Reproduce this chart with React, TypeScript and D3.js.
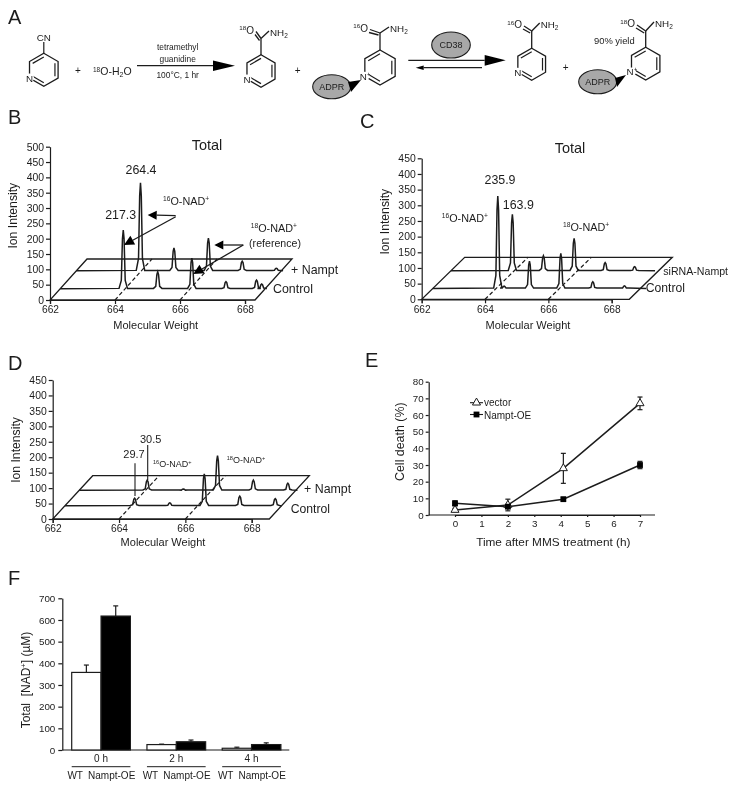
import React, { useEffect, useRef } from "react";
import * as d3 from "d3";

const FONT = "'Liberation Sans', Arial, sans-serif";
const INK = "#1c1c1c";

// spectra: peak mass + height above each trace baseline
const massTicks = [662, 664, 666, 668];
const ionTicksB = d3.range(0, 501, 50);
const ionTicksCD = d3.range(0, 451, 50);

const bFrontMass = [663.94, 665.0, 666.05, 667.1, 668.04, 668.2];
const bFrontHeight = [191, 55, 100, 23, 28, 15];
const bBackMass = [663.97, 665.0, 666.06, 667.1, 668.15];
const bBackHeight = [287, 74, 106, 31, 8];

const cFrontMass = [664.05, 664.25, 665.05, 666.04, 667.05, 668.05];
const cFrontHeight = [295, 7, 87, 112, 21, 8];
const cBackMass = [663.94, 664.92, 665.89, 666.87, 667.8];
const cBackHeight = [180, 48, 103, 26, 13];

const dFrontMass = [664.1, 665.16, 666.2, 667.27, 668.34];
const dFrontHeight = [24, 9, 103, 31, 23];
const dBackMass = [664.05, 665.14, 666.17, 667.25, 668.29];
const dBackHeight = [33, 4, 112, 33, 23];

// panel E
const hours = [0, 2, 4.1, 7];
const hourTicks = [0, 1, 2, 3, 4, 5, 6, 7];
const deathTicks = [0, 10, 20, 30, 40, 50, 60, 70, 80];
const vectorDeath = [3, 6, 28, 67];
const vectorErr = [1, 3.5, 9, 3.8];
const namptDeath = [7, 5, 9.5, 30];
const namptErr = [1.5, 1, 1, 2.2];

// panel F
const timeGroups = ["0 h", "2 h", "4 h"];
const genotypes = ["WT", "Nampt-OE"];
const wtNad = [358, 25, 8];
const wtNadErr = [34, 2, 5];
const oeNad = [618, 38, 25];
const oeNadErr = [47, 8, 8];
const nadTicks = [0, 100, 200, 300, 400, 500, 600, 700];

function Axis({ axis, x = 0, y = 0, size }: any) {
  const ref = useRef<SVGGElement>(null);
  useEffect(() => {
    const g = d3.select(ref.current);
    g.call(axis);
    g.attr("font-family", FONT).attr("font-size", size);
    g.selectAll("text").attr("fill", INK);
    g.selectAll("line,path").attr("stroke", INK).attr("stroke-width", 1.2);
  }, [axis, size]);
  return <g ref={ref} transform={`translate(${x},${y})`} />;
}

// label with sup/sub pieces, e.g. 18 + O-NAD + "+"
function Iso({ x, y, size, sup, body, tail, anchor = "start" }: any) {
  return (
    <text x={x} y={y} fontSize={size} textAnchor={anchor} fill={INK} fontFamily={FONT}>
      <tspan fontSize={size * 0.62} dy={-size * 0.35}>{sup}</tspan>
      <tspan dy={size * 0.35}>{body}</tspan>
      {tail ? <tspan fontSize={size * 0.62} dy={-size * 0.35}>{tail}</tspan> : null}
    </text>
  );
}

function Txt({ x, y, size, children, anchor = "start", rotate, weight }: any) {
  return (
    <text
      x={x}
      y={y}
      fontSize={size}
      textAnchor={anchor}
      fill={INK}
      fontFamily={FONT}
      fontWeight={weight}
      transform={rotate ? `rotate(${rotate},${x},${y})` : undefined}
    >
      {children}
    </text>
  );
}

function Arrow({ from, to, head = 9, half = 4.5, width = 1.3 }: any) {
  const a = Math.atan2(to[1] - from[1], to[0] - from[0]);
  const bx = to[0] - head * Math.cos(a);
  const by = to[1] - head * Math.sin(a);
  const nx = -Math.sin(a) * half;
  const ny = Math.cos(a) * half;
  return (
    <g>
      <line x1={from[0]} y1={from[1]} x2={bx} y2={by} stroke={INK} strokeWidth={width} />
      <path d={`M${to[0]},${to[1]}L${bx + nx},${by + ny}L${bx - nx},${by - ny}Z`} fill="#000" />
    </g>
  );
}

function tracePoints(start: number, end: number, mass: number[], height: number[]) {
  const pts: [number, number][] = [[start, 0]];
  d3.zip(mass, height).forEach(([m, h]: any) => {
    pts.push(
      [m - 0.13, 1],
      [m - 0.06, h * 0.14],
      [m - 0.025, h * 0.85],
      [m, h],
      [m + 0.025, h * 0.85],
      [m + 0.06, h * 0.14],
      [m + 0.13, 1]
    );
  });
  pts.push([end, 0]);
  return pts;
}

function Spectrum({ p, ionTicks, front, back, children }: any) {
  const x = d3.scaleLinear().domain([662, 668]).range([p.x0, p.x668]);
  const y = d3.scaleLinear().domain([0, ionTicks[ionTicks.length - 1]]).range([p.y0, p.yTop]);
  const xEnd = x.invert(p.xEnd);
  const unit = y(0) - y(1);

  const draw = (z: number, mass: number[], height: number[], end: number) =>
    d3
      .line<[number, number]>()
      .x((d) => x(d[0]) + z * p.dx)
      .y((d) => y(0) - z * p.dy - d[1] * unit)(tracePoints(662, end, mass, height)) as string;

  const floor = d3.line()([
    [x(662), y(0)],
    [p.xEnd, y(0)],
    [p.xEnd + p.dx, y(0) - p.dy],
    [x(662) + p.dx, y(0) - p.dy],
  ]) + "Z";

  const xAxis = d3.axisBottom(x).tickValues(massTicks).tickFormat(d3.format("d") as any).tickSize(4).tickPadding(2);
  const yAxis = d3.axisLeft(y).tickValues(ionTicks).tickSizeInner(4).tickSizeOuter(0).tickPadding(2);

  return (
    <g>
      <path d={floor} fill="none" stroke={INK} strokeWidth={1.3} />
      {[664, 666].map((m) => (
        <line
          key={m}
          x1={x(m)}
          y1={y(0)}
          x2={x(m) + p.dx}
          y2={y(0) - p.dy}
          stroke={INK}
          strokeWidth={1.2}
          strokeDasharray="4 2.5"
        />
      ))}
      <path d={draw(p.zBack, back[0], back[1], xEnd + p.backExtra)} fill="none" stroke={INK} strokeWidth={1.5} />
      <path d={draw(p.zFront, front[0], front[1], xEnd + p.frontExtra)} fill="none" stroke={INK} strokeWidth={1.5} />
      <Axis axis={yAxis} x={p.x0} size={10.4} />
      <Axis axis={xAxis} y={p.y0} size={10.2} />
      {children}
    </g>
  );
}

function Ring({ cx, cy, r, nLabel = "N" }: any) {
  const verts = d3.range(6).map((i) => {
    const a = ((i * 60 - 90) * Math.PI) / 180;
    return [cx + r * Math.cos(a), cy + r * Math.sin(a)] as [number, number];
  });
  const inner = (i: number) => {
    const a = verts[i];
    const b = verts[(i + 1) % 6];
    const f = 0.78;
    const p = (q: number[]) => [cx + (q[0] - cx) * f, cy + (q[1] - cy) * f];
    const pa = p(a);
    const pb = p(b);
    return <line key={i} x1={pa[0]} y1={pa[1]} x2={pb[0]} y2={pb[1]} stroke={INK} strokeWidth={1.2} />;
  };
  const n = verts[4];
  return (
    <g>
      <path d={d3.line()(verts) + "Z"} fill="none" stroke={INK} strokeWidth={1.3} />
      {[1, 3, 5].map(inner)}
      <circle cx={n[0]} cy={n[1]} r={4.5} fill="#fff" />
      <Txt x={n[0]} y={n[1] + 3.5} size={9.8} anchor="middle">{nLabel}</Txt>
    </g>
  );
}

// carboxamide on top of a ring
function Amide({ x, yTop, yC, sup, oxX, oxY, nhX, nhY }: any) {
  return (
    <g stroke={INK} fill="none" strokeWidth={1.3}>
      <line x1={x} y1={yTop} x2={x} y2={yC} />
      <line x1={x} y1={yC} x2={nhX - 1} y2={nhY - 5} />
      <line x1={x} y1={yC} x2={oxX + 5} y2={oxY - 2} />
      <line x1={x - 1.5} y1={yC + 2} x2={oxX + 4} y2={oxY + 1} />
      <g stroke="none">
        <Iso x={oxX + 3} y={oxY} size={10} sup={sup} body="O" anchor="end" />
        <text x={nhX} y={nhY} fontSize={9.8} fontFamily={FONT} fill={INK}>
          NH<tspan fontSize={6.5} dy={2}>2</tspan>
        </text>
      </g>
    </g>
  );
}

function Blob({ cx, cy, rx, ry, label, size = 9 }: any) {
  return (
    <g>
      <ellipse cx={cx} cy={cy} rx={rx} ry={ry} fill="#a8a8a8" stroke={INK} strokeWidth={1.1} />
      <Txt x={cx} y={cy + 3.2} size={size} anchor="middle">{label}</Txt>
    </g>
  );
}

function Scheme() {
  return (
    <g>
      <Ring cx={43.8} cy={69.8} r={16.5} />
      <line x1={43.8} y1={53} x2={43.8} y2={42} stroke={INK} strokeWidth={1.2} />
      <Txt x={43.8} y={41} size={9.8} anchor="middle">CN</Txt>
      <Txt x={78} y={74} size={10} anchor="middle">+</Txt>
      <text x={93} y={75} fontSize={10.5} fill={INK} fontFamily={FONT}>
        <tspan fontSize={6.5} dy={-3.5}>18</tspan>
        <tspan dy={3.5}>O-H</tspan>
        <tspan fontSize={7} dy={2}>2</tspan>
        <tspan dy={-2}>O</tspan>
      </text>
      <Arrow from={[137, 65.7]} to={[235, 65.7]} head={22} half={5.2} />
      <Txt x={177.7} y={50} size={8.4} anchor="middle">tetramethyl</Txt>
      <Txt x={177.7} y={61.5} size={8.4} anchor="middle">guanidine</Txt>
      <Txt x={177.7} y={77.5} size={8.4} anchor="middle">100°C, 1 hr</Txt>

      <Ring cx={261} cy={71} r={16.2} />
      <Amide x={261} yTop={55} yC={38.5} sup="18" oxX={251} oxY={33.5} nhX={270} nhY={36} />
      <Txt x={297.7} y={74} size={10} anchor="middle">+</Txt>

      <Ring cx={380} cy={67.5} r={17.5} nLabel="N⁺" />
      <Amide x={380} yTop={50} yC={33} sup="16" oxX={365} oxY={31.5} nhX={390} nhY={32} />
      <Blob cx={331.7} cy={86.7} rx={19} ry={12} label="ADPR" />
      <path d="M348,82L361,80L351,92Z" fill="#000" />

      <Blob cx={451} cy={45} rx={19.3} ry={13} label="CD38" />
      <Arrow from={[408.3, 60.3]} to={[505.7, 60.3]} head={21} half={5.4} />
      <Arrow from={[482, 67.7]} to={[415.7, 67.7]} head={8} half={2.2} />

      <Ring cx={531.7} cy={64.2} r={16} />
      <Amide x={531.7} yTop={48.2} yC={31} sup="16" oxX={519} oxY={28} nhX={540.7} nhY={28} />
      <Txt x={565.7} y={70.5} size={10} anchor="middle">+</Txt>

      <Txt x={594} y={44} size={9.4}>90% yield</Txt>
      <Ring cx={645.7} cy={63.7} r={16.4} nLabel="N⁺" />
      <Amide x={645.7} yTop={47.3} yC={31} sup="18" oxX={632} oxY={27} nhX={655} nhY={27} />
      <Blob cx={597.7} cy={81.7} rx={19} ry={12} label="ADPR" />
      <path d="M615,78L626,75L617,87Z" fill="#000" />
    </g>
  );
}

function PanelB() {
  const p = { x0: 50, x668: 245, y0: 300, yTop: 146.7, xEnd: 255, dx: 37, dy: 41, zFront: 0.276, zBack: 0.715, frontExtra: 0.05, backExtra: 0.05 };
  return (
    <Spectrum p={p} ionTicks={ionTicksB} front={[bFrontMass, bFrontHeight]} back={[bBackMass, bBackHeight]}>
      <Txt x={207} y={150} size={14.5} anchor="middle">Total</Txt>
      <Txt x={141} y={174} size={12.4} anchor="middle">264.4</Txt>
      <Txt x={120.7} y={219} size={12.4} anchor="middle">217.3</Txt>
      <Iso x={163} y={205} size={10.8} sup="16" body="O-NAD" tail="+" />
      <Iso x={250.7} y={231.7} size={10.8} sup="18" body="O-NAD" tail="+" />
      <Txt x={275} y={246.7} size={10.6} anchor="middle">(reference)</Txt>
      <Txt x={291} y={274.3} size={12.4}>+ Nampt</Txt>
      <Txt x={273} y={293.3} size={12.4}>Control</Txt>
      <Txt x={17.5} y={215.7} size={12.2} anchor="middle" rotate={-90}>Ion Intensity</Txt>
      <Txt x={155.7} y={329} size={11} anchor="middle">Molecular Weight</Txt>
      <Arrow from={[175.7, 215.7]} to={[147.7, 215]} />
      <Arrow from={[175.7, 216.7]} to={[124, 245]} head={10} half={5} />
      <Arrow from={[243.3, 245]} to={[214.3, 245]} />
      <Arrow from={[243.3, 245]} to={[193.3, 274]} head={10} half={5} />
    </Spectrum>
  );
}

function PanelC() {
  const p = { x0: 421.7, x668: 611.7, y0: 299.3, yTop: 158.3, xEnd: 629.3, dx: 43, dy: 42, zFront: 0.26, zBack: 0.68, frontExtra: 0.18, backExtra: -0.11 };
  return (
    <Spectrum p={p} ionTicks={ionTicksCD} front={[cFrontMass, cFrontHeight]} back={[cBackMass, cBackHeight]}>
      <Txt x={570} y={152.7} size={14.5} anchor="middle">Total</Txt>
      <Txt x={500} y={184} size={12.4} anchor="middle">235.9</Txt>
      <Txt x={518.3} y={209.3} size={12.4} anchor="middle">163.9</Txt>
      <Iso x={441.7} y={221.7} size={10.8} sup="16" body="O-NAD" tail="+" />
      <Iso x={563} y={231} size={10.8} sup="18" body="O-NAD" tail="+" />
      <Txt x={663.3} y={275} size={10.6}>siRNA-Nampt</Txt>
      <Txt x={645.7} y={292.3} size={12.2}>Control</Txt>
      <Txt x={389.5} y={221.7} size={12.2} anchor="middle" rotate={-90}>Ion Intensity</Txt>
      <Txt x={528} y={329} size={11} anchor="middle">Molecular Weight</Txt>
    </Spectrum>
  );
}

function PanelD() {
  const p = { x0: 52.7, x668: 251.7, y0: 519, yTop: 380, xEnd: 269.3, dx: 40, dy: 43.3, zFront: 0.307, zBack: 0.663, frontExtra: 0, backExtra: 0.05 };
  return (
    <Spectrum p={p} ionTicks={ionTicksCD} front={[dFrontMass, dFrontHeight]} back={[dBackMass, dBackHeight]}>
      <line x1={135} y1={463.3} x2={135} y2={496} stroke={INK} strokeWidth={1.1} />
      <line x1={147.7} y1={445} x2={147.7} y2={480} stroke={INK} strokeWidth={1.1} />
      <Txt x={134} y={458} size={11} anchor="middle">29.7</Txt>
      <Txt x={150.7} y={443} size={11} anchor="middle">30.5</Txt>
      <Iso x={153} y={467} size={9} sup="16" body="O-NAD" tail="+" />
      <Iso x={226.7} y={462.7} size={9} sup="18" body="O-NAD" tail="+" />
      <Txt x={304} y={493.3} size={12.4}>+ Nampt</Txt>
      <Txt x={290.7} y={512.7} size={12.2}>Control</Txt>
      <Txt x={19.5} y={450} size={12.2} anchor="middle" rotate={-90}>Ion Intensity</Txt>
      <Txt x={163} y={546} size={11} anchor="middle">Molecular Weight</Txt>
    </Spectrum>
  );
}

function PanelE() {
  const x = d3.scaleLinear().domain([0, 7]).range([455, 640]);
  const y = d3.scaleLinear().domain([0, 80]).range([515, 381.7]);
  const line = d3
    .line<number>()
    .x((_, i) => x(hours[i]))
    .y((d) => y(d));
  const xAxis = d3.axisBottom(x).tickValues(hourTicks).tickFormat(d3.format("d") as any).tickSize(2).tickSizeOuter(0).tickPadding(3);
  const yAxis = d3.axisLeft(y).tickValues(deathTicks).tickSizeInner(3).tickSizeOuter(0).tickPadding(2);
  const tri = d3.symbol(d3.symbolTriangle, 28);
  const sq = d3.symbol(d3.symbolSquare, 34);

  const errBars = (vals: number[], errs: number[]) =>
    vals.map((v, i) => (
      <g key={i} stroke={INK} strokeWidth={1.2}>
        <line x1={x(hours[i])} x2={x(hours[i])} y1={y(v - errs[i])} y2={y(v + errs[i])} />
        <line x1={x(hours[i]) - 2.5} x2={x(hours[i]) + 2.5} y1={y(v + errs[i])} y2={y(v + errs[i])} />
        <line x1={x(hours[i]) - 2.5} x2={x(hours[i]) + 2.5} y1={y(v - errs[i])} y2={y(v - errs[i])} />
      </g>
    ));

  return (
    <g>
      <Axis axis={yAxis} x={428.7} size={9.8} />
      <line x1={428.7} x2={655} y1={515} y2={515} stroke={INK} strokeWidth={1.2} />
      <Axis axis={xAxis} y={515} size={9.8} />
      {errBars(vectorDeath, vectorErr)}
      {errBars(namptDeath, namptErr)}
      <path d={line(vectorDeath) as string} fill="none" stroke={INK} strokeWidth={1.5} />
      <path d={line(namptDeath) as string} fill="none" stroke={INK} strokeWidth={1.5} />
      {vectorDeath.map((v, i) => (
        <path key={i} d={tri() as string} transform={`translate(${x(hours[i])},${y(v)})`} fill="#fff" stroke={INK} strokeWidth={1} />
      ))}
      {namptDeath.map((v, i) => (
        <path key={i} d={sq() as string} transform={`translate(${x(hours[i])},${y(v)})`} fill="#000" />
      ))}
      <line x1={470} x2={483} y1={402.7} y2={402.7} stroke={INK} strokeWidth={1.1} />
      <path d={tri() as string} transform="translate(476.5,402.7)" fill="#fff" stroke={INK} strokeWidth={1} />
      <Txt x={484} y={406} size={10}>vector</Txt>
      <line x1={470} x2={483} y1={414.5} y2={414.5} stroke={INK} strokeWidth={1.1} />
      <path d={sq() as string} transform="translate(476.5,414.5)" fill="#000" />
      <Txt x={484} y={418.5} size={10}>Nampt-OE</Txt>
      <Txt x={404.5} y={441.7} size={12.4} anchor="middle" rotate={-90}>Cell death (%)</Txt>
      <Txt x={553.3} y={545.7} size={11.8} anchor="middle">Time after MMS treatment (h)</Txt>
    </g>
  );
}

function PanelF() {
  const x0 = d3.scaleBand().domain(timeGroups).range([62.3, 290.3]).paddingInner(0.22).paddingOuter(0.125);
  const x1 = d3.scaleBand().domain(genotypes).range([0, x0.bandwidth()]);
  const y = d3.scaleLinear().domain([0, 700]).range([750, 598.3]);
  const yAxis = d3.axisLeft(y).tickValues(nadTicks).tickSizeInner(4).tickSizeOuter(0).tickPadding(3);

  const bar = (g: string, k: string, v: number, e: number, fill: string) => {
    const bx = (x0(g) as number) + (x1(k) as number);
    const cx = bx + x1.bandwidth() / 2;
    return (
      <g key={g + k}>
        <line x1={cx} x2={cx} y1={y(v)} y2={y(v + e)} stroke={INK} strokeWidth={1.2} />
        <line x1={cx - 2.5} x2={cx + 2.5} y1={y(v + e)} y2={y(v + e)} stroke={INK} strokeWidth={1.2} />
        <rect x={bx} y={y(v)} width={x1.bandwidth()} height={750 - y(v)} fill={fill} stroke={INK} strokeWidth={1.2} />
      </g>
    );
  };

  return (
    <g>
      <line x1={62.3} x2={289.3} y1={750} y2={750} stroke={INK} strokeWidth={1.2} />
      {timeGroups.map((g, i) => bar(g, "WT", wtNad[i], wtNadErr[i], "#fff"))}
      {timeGroups.map((g, i) => bar(g, "Nampt-OE", oeNad[i], oeNadErr[i], "#000"))}
      <Axis axis={yAxis} x={62.3} size={9.8} />
      {timeGroups.map((g) => {
        const left = x0(g) as number;
        return (
          <g key={g}>
            <Txt x={left + x0.bandwidth() / 2} y={762} size={10} anchor="middle">{g}</Txt>
            <line x1={left} x2={left + x0.bandwidth()} y1={766.7} y2={766.7} stroke={INK} strokeWidth={1} />
            <Txt x={left + 3.5} y={779} size={10} anchor="middle">{genotypes[0]}</Txt>
            <Txt x={left + 40} y={779} size={10} anchor="middle">{genotypes[1]}</Txt>
          </g>
        );
      })}
      <text transform="translate(29.5,680) rotate(-90)" fontSize={12} textAnchor="middle" fontFamily={FONT} fill={INK}>
        Total{"\u00a0\u00a0"}[NAD<tspan fontSize={7.5} dy={-3.5}>+</tspan><tspan dy={3.5}>] (µM)</tspan>
      </text>
    </g>
  );
}

export default function App() {
  return (
    <svg width={750} height={790} viewBox="0 0 750 790" style={{ position: "absolute", left: 0, top: 0, background: "#fff" }}>
      <defs>
        <filter id="soft" x="0" y="0" width="100%" height="100%">
          <feGaussianBlur stdDeviation="0.45" />
        </filter>
      </defs>
      <g filter="url(#soft)">
        <rect width={750} height={790} fill="#fff" />
        <Txt x={8} y={23.5} size={20}>A</Txt>
        <Txt x={8} y={124} size={20}>B</Txt>
        <Txt x={360} y={127.7} size={20}>C</Txt>
        <Txt x={8} y={370} size={20}>D</Txt>
        <Txt x={365} y={366.7} size={20}>E</Txt>
        <Txt x={8} y={585} size={20}>F</Txt>
        <Scheme />
        <PanelB />
        <PanelC />
        <PanelD />
        <PanelE />
        <PanelF />
      </g>
    </svg>
  );
}
